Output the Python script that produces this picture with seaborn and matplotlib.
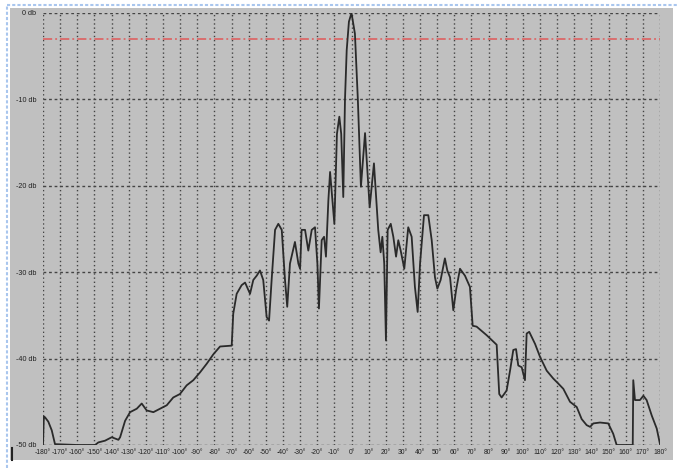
import matplotlib
matplotlib.use("Agg")
import matplotlib.pyplot as plt
import seaborn as sns
import pandas as pd
from matplotlib.patches import Rectangle
from matplotlib.lines import Line2D

# antenna pattern (angle in degrees, level in dB)
angle = [-180, -179.5, -178.8, -176.9, -174.9, -173, -160, -149.6, -147.7, -143.8,
         -139.9, -136, -135, -132.1, -129.2, -125.3, -122.4, -119.5, -115.6, -111.7,
         -107.8, -104, -100.1, -96.2, -92.3, -88.4, -84.5, -80.6, -76.7, -69.9,
         -69, -67, -64.1, -62.1, -59.2, -57.3, -55.3, -53.4, -51.5, -49.5,
         -48.1, -46.6, -44.6, -42.7, -40.7, -38.8, -37.5, -35.9, -33, -31,
         -30, -29.1, -27.1, -25.2, -23.2, -21.3, -19.9, -19, -17.4, -16,
         -14.9, -13.5, -12.5, -10, -8.5, -7.1, -6, -4.8, -3.8, -2.8,
         -1.5, 0, 2, 3.7, 5.5, 7.9, 10.6, 13.1, 15.6, 17,
         18, 19.1, 20.1, 21.1, 22.9, 24.4, 26, 27.3, 28.7, 30.8,
         33.1, 35.1, 37, 38.6, 40, 42.3, 44.8, 46.8, 48.7, 50.1,
         52, 54.5, 55.9, 57.5, 59.4, 61, 63.3, 66.2, 69.1, 70.7,
         73, 78.9, 84.7, 86.2, 87.6, 90.5, 92.5, 94.4, 96, 97.3,
         99.3, 101.2, 102.2, 103.7, 107.1, 110, 113.9, 117.7, 120.7, 123.6,
         127.5, 131.4, 134.3, 137.2, 139.2, 141.1, 145, 149.8, 152.7, 154.7,
         164.1, 164.4, 165.4, 168.3, 170.3, 172.2, 175.2, 178.1, 180]
level = [-50, -46.7, -46.8, -47.3, -48.3, -49.9, -50, -50, -49.7, -49.5,
         -49.1, -49.4, -49.1, -47.2, -46.2, -45.8, -45.2, -46.0, -46.2, -45.8,
         -45.4, -44.5, -44.1, -43.1, -42.5, -41.6, -40.6, -39.5, -38.6, -38.5,
         -34.8, -32.5, -31.5, -31.2, -32.5, -30.9, -30.4, -29.8, -30.9, -35.2,
         -35.6, -30.9, -25.1, -24.4, -25.1, -30.9, -34.0, -29.0, -26.5, -29.0,
         -29.6, -25.1, -25.1, -27.5, -25.1, -24.8, -29.0, -34.2, -26.3, -25.9,
         -28.2, -21.7, -18.4, -24.4, -14.0, -12.0, -14.0, -21.3, -10.0, -4.3,
         -1.0, 0, -2.4, -10.0, -20.1, -13.9, -22.5, -17.4, -25.1, -27.7,
         -25.9, -29.0, -37.9, -25.1, -24.4, -25.9, -28.2, -26.3, -27.5, -29.6,
         -24.8, -25.9, -31.7, -34.6, -29.0, -23.4, -23.4, -26.3, -30.6, -31.9,
         -30.9, -28.4, -29.8, -30.6, -34.4, -32.1, -29.6, -30.4, -31.7, -36.2,
         -36.3, -37.3, -38.4, -44.1, -44.5, -43.7, -41.4, -39.0, -38.9, -40.8,
         -41.0, -42.5, -37.1, -36.9, -38.3, -39.8, -41.4, -42.3, -42.9, -43.5,
         -45.0, -45.6, -47.0, -47.7, -47.9, -47.5, -47.4, -47.5, -48.7, -50,
         -50, -42.5, -44.8, -44.8, -44.3, -44.8, -46.6, -48.1, -49.9]

x_ticks = list(range(-180, 181, 10))
x_labels = [f"{t}°" for t in x_ticks]
y_ticks = [0, -10, -20, -30, -40, -50]
y_labels = [f"{t} db" for t in y_ticks]
ref_level = -3

df = pd.DataFrame({"angle": angle, "level": level})

W, H = 677, 468
fig = plt.figure(figsize=(W / 100, H / 100), dpi=100, facecolor="white")

# gray panel and window border
fig.patches.append(Rectangle((10 / W, 1 - 460 / H), 663 / W, 452 / H,
                             transform=fig.transFigure, facecolor="#c0c0c0",
                             edgecolor="none", zorder=-10))
fig.lines.append(Line2D([7 / W, 1], [1 - 5 / H, 1 - 5 / H], transform=fig.transFigure,
                        color="#a9c6ee", lw=1.5, linestyle=(0, (1.5, 1)), zorder=-5))
fig.lines.append(Line2D([7 / W, 7 / W], [0, 1 - 5 / H], transform=fig.transFigure,
                        color="#a9c6ee", lw=1.5, linestyle=(0, (1.5, 1)), zorder=-5))
fig.lines.append(Line2D([12 / W, 12 / W], [1 - 460 / H, 1 - 448 / H],
                        transform=fig.transFigure, color="#222222", lw=1.5, zorder=-5))

ax = fig.add_axes([43 / W, 1 - 445 / H, 617 / W, 432 / H])
ax.set_facecolor("#c0c0c0")

for t in x_ticks:
    ax.axvline(t, color="#444444", lw=1.0, linestyle=(0, (1, 2)), zorder=1)
for t in y_ticks:
    ax.axhline(t, color="#444444", lw=1.0, linestyle=(0, (2, 2)), zorder=1)
ax.axhline(ref_level, color="#e05858", lw=1.1, linestyle=(0, (6, 2, 1.2, 2)), zorder=2)

sns.lineplot(data=df, x="angle", y="level", ax=ax, color="#2a2a2a", lw=1.3,
             estimator=None, sort=False, zorder=3)

ax.set_xlim(-180, 180)
ax.set_ylim(-50, 0)
ax.set_xticks(x_ticks)
ax.set_xticklabels(x_labels, fontsize=4.9, color="#222222", family="Liberation Sans")
ax.set_yticks(y_ticks)
ax.set_yticklabels(y_labels, fontsize=5.2, color="#222222", family="Liberation Sans")
ax.tick_params(length=0)
ax.tick_params(axis="x", pad=3)
ax.tick_params(axis="y", pad=5)
ax.set_xlabel("")
ax.set_ylabel("")
for s in ax.spines.values():
    s.set_visible(False)

fig.savefig("out.png", dpi=100, facecolor="white")
